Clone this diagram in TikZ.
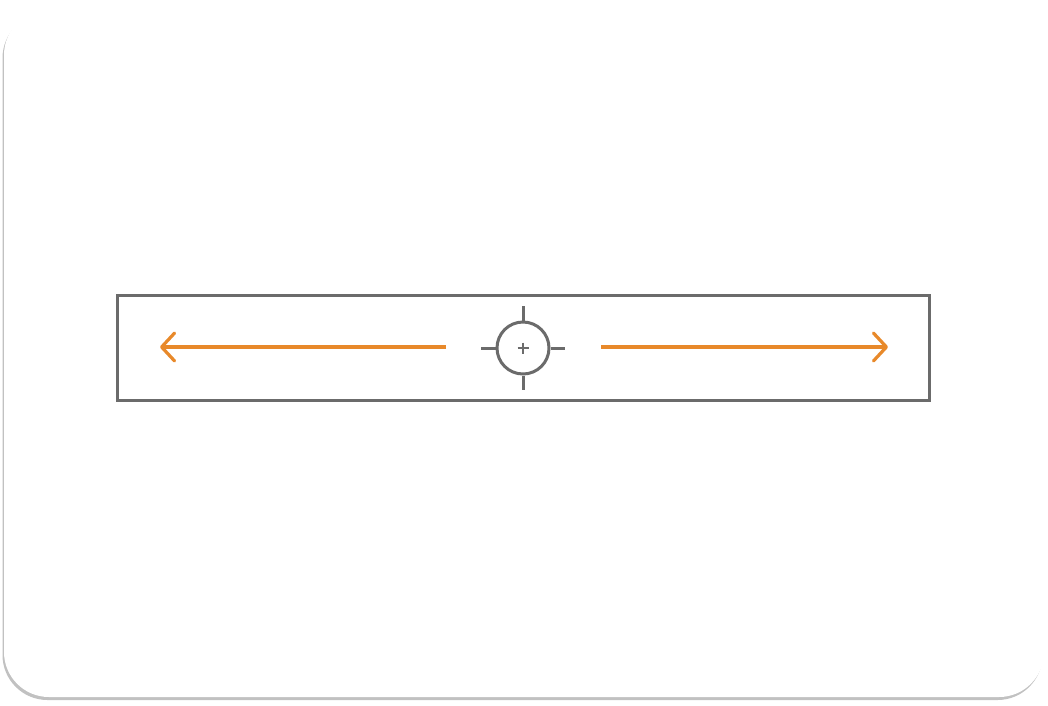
\documentclass[tikz,border=0pt]{standalone}
\usetikzlibrary{arrows.meta,shadows,calc}
\definecolor{frame}{HTML}{6B6B6B}
\definecolor{orng}{HTML}{E8892A}
\begin{document}
\begin{tikzpicture}[x=1pt,y=-1pt,
  card/.style={fill=white,rounded corners=45pt,
    drop shadow={shadow xshift=-1.5pt,shadow yshift=-3pt,fill=black!35,opacity=0.7}},
  band/.style={draw=frame,line width=2.6pt},
  tick/.style={draw=frame,line width=3pt},
  arr/.style={draw=orng,line width=3.2pt,-{Straight Barb[length=13pt,width=28pt,line cap=round,line join=round]}}]
\useasboundingbox (0,0) rectangle (1048,705);
\path[card] (4,10) rectangle (1044,697);
\node[band,minimum width=812pt,minimum height=105pt,inner sep=0pt] (box) at (523.5,348) {};
\node[draw=frame,line width=3pt,circle,minimum size=52pt,inner sep=0pt] (c) at (523,348) {};
\coordinate (tt) at (523,306);
\coordinate (bb) at (523,390);
\coordinate (ll) at (481,348);
\coordinate (rr) at (565,348);
\draw[tick] (c.north) -- (tt);
\draw[tick] (c.south) -- (bb);
\draw[tick] (c.west) -- (ll);
\draw[tick] (c.east) -- (rr);
\draw[tick,line width=2.6pt] ($(c.center)+(-5.5,0)$) -- ($(c.center)+(5.5,0)$);
\draw[tick,line width=2.6pt] ($(c.center)+(0,-5.5)$) -- ($(c.center)+(0,5.5)$);
\coordinate (ls) at (446,347);
\coordinate (le) at (160,347);
\coordinate (rs) at (601,347);
\coordinate (re) at (888,347);
\draw[arr] (ls) -- (le);
\draw[arr] (rs) -- (re);
\end{tikzpicture}
\end{document}
